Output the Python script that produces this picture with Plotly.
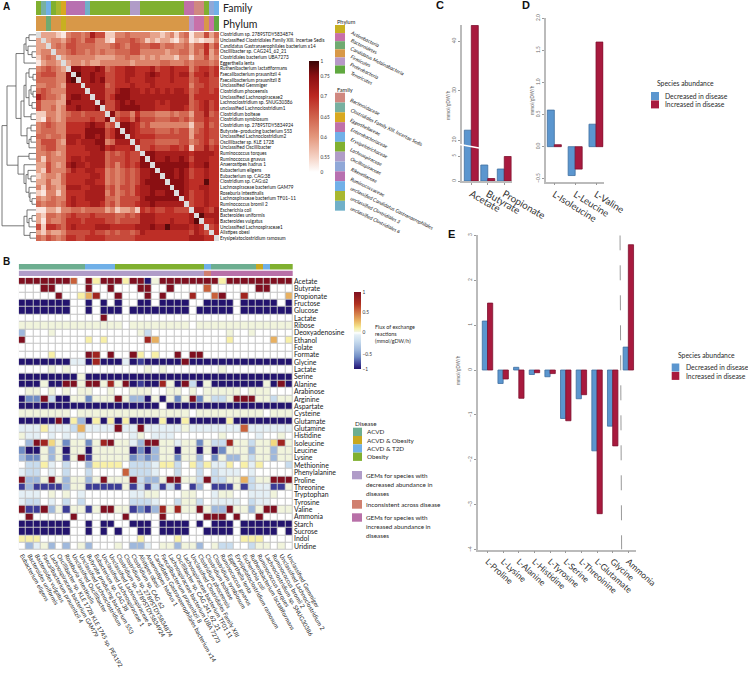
import numpy as np
import plotly.graph_objects as go

W, H = 748, 678
FONT = "Lato"
BLUE, RED = "#5b96cf", "#a81a3e"
BLUE_EDGE, RED_EDGE = "#3f6f9f", "#7d1230"

# ---------- Panel A ----------
SPECIES_A = ["Clostridium sp. 2789STDY5834874", "Unclassified Clostridiales Family XIII. Incertae Sedis",
    "Candidatus Gastranaerophilales bacterium x14", "Oscillibacter sp. CAG241_62_21", "Clostridiales bacterium UBA7273",
    "Eggerthella lenta", "Ruthenibacterium lactatiformans", "Faecalibacterium prausnitzii 4", "Faecalibacterium prausnitzii 8",
    "Unclassified Gemmiger", "Clostridium phoceensis", "Unclassified Lachnospiraceae2", "Lachnoclostridium sp. SNUG30386",
    "unclassified Lachnoclostridium1", "Clostridium bolteae", "Clostridium symbiosum", "Clostridium sp. 2789STDY5834924",
    "Butyrate−producing bacterium S53", "Unclassified Lachnoclostridium2", "Oscillibacter sp. KLE 1728", "Unclassified Oscillibacter",
    "Ruminococcus torques", "Ruminococcus gnavus", "Anaerostipes hadrus 1", "Eubacterium eligens", "Eubacterium sp. CAG:38",
    "Clostridium sp. CAG:62", "Lachnospiraceae bacterium GAM79", "Roseburia intestinalis", "Lachnospiraceae bacterium TF01−11",
    "Ruminococcus bromii 2", "Escherichia coli", "Bacteroides uniformis", "Bacteroides vulgatus", "Unclassified Lachnospiraceae1",
    "Alistipes obesi", "Erysipelatoclostridium ramosum"]
# upper triangle of the correlation heatmap, one darkness class per cell, read by eye
CORR_UPPER = [
    "2 2 2 1 0 3 4 4 3 4 7 5 5 1 1 3 3 4 3 3 3 3 2 2 1 2 3 1 3 4 0 2 2 5 2 4",
    "2 3 3 2 4 5 4 3 5 5 3 3 1 0 4 4 4 5 4 3 1 2 1 2 2 1 0 2 3 0 1 0 1 1 3",
    "3 4 3 5 5 4 4 4 4 3 3 3 4 5 4 3 5 5 4 4 5 5 3 4 4 3 3 4 2 4 4 6 3 5",
    "3 3 4 5 4 4 3 4 3 4 3 3 4 4 4 5 5 3 3 3 3 3 2 3 3 4 4 2 4 3 6 2 4",
    "2 3 3 3 3 3 3 2 2 2 2 3 3 4 3 3 2 3 2 3 2 2 2 1 3 3 1 3 3 5 2 3",
    "2 3 3 2 3 2 2 3 3 3 3 3 3 2 3 3 3 3 3 4 4 3 3 3 4 3 4 4 4 3 4",
    "8 8 7 7 7 8 7 4 5 6 6 7 7 6 6 6 7 5 6 6 7 6 6 6 3 5 6 6 5 6",
    "9 7 7 8 7 7 5 5 6 6 7 7 6 6 7 8 7 6 6 7 6 7 7 4 6 6 7 5 6",
    "7 7 8 7 8 5 5 6 6 7 6 6 6 7 7 6 6 6 7 6 6 6 4 5 6 6 5 5",
    "7 7 7 7 4 5 6 6 6 7 6 6 6 7 6 6 6 6 6 6 6 3 5 5 6 5 5",
    "7 7 7 5 5 7 8 8 7 7 6 7 6 7 6 7 6 7 7 6 4 5 6 6 5 6",
    "7 7 5 6 8 8 8 7 7 7 7 7 7 7 7 7 7 7 7 4 6 6 6 6 6",
    "8 5 5 7 8 7 8 7 7 7 7 6 7 6 7 7 7 7 4 5 6 7 5 6",
    "5 5 7 8 8 8 8 7 7 7 6 6 6 7 7 7 6 4 5 6 7 5 6",
    "8 4 5 5 3 6 4 4 4 3 3 3 4 3 4 4 2 5 5 7 4 5",
    "5 6 6 4 7 5 5 5 4 4 4 5 5 4 5 3 5 5 6 5 5",
    "8 8 7 6 4 5 3 3 3 3 3 3 3 3 1 4 4 6 4 5",
    "8 7 6 5 5 5 4 4 4 5 4 5 5 2 4 5 6 5 5",
    "7 6 6 6 6 5 5 5 5 5 5 5 2 5 5 6 5 5",
    "7 5 5 5 4 4 4 4 4 5 5 3 4 5 6 4 5",
    "5 5 6 5 5 5 6 6 5 6 1 5 5 7 5 6",
    "8 8 7 7 7 7 7 7 7 6 7 7 7 7 6",
    "8 7 7 8 7 7 8 7 5 7 7 7 6 6",
    "8 8 8 8 8 8 8 6 7 7 8 6 6",
    "8 8 8 7 8 7 5 6 6 7 6 6",
    "8 8 7 8 7 5 6 6 7 6 6",
    "8 8 8 7 6 6 6 9 6 6",
    "8 8 7 6 6 7 7 6 6",
    "8 7 5 6 6 7 6 6",
    "7 5 6 6 7 6 6",
    "5 6 6 7 6 6",
    "7 7 6 5 7",
    "9 7 7 7",
    "6 6 7",
    "5 6",
    "6",
]
CORR_LEVELS = [0.3, 0.555, 0.59, 0.62, 0.645, 0.67, 0.695, 0.72, 0.75, 0.9]
CBAR_A_TICKS = [0, 0.55, 0.6, 0.65, 0.7, 0.75, 1]
CBAR_A_LABELS = ["0", "0.55", "0.6", "0.65", "0.7", "0.75", "1"]
CBAR_A_POS = [0, 0.135, 0.315, 0.495, 0.685, 0.865, 1]
CSCALE_A = [[0, "#ffffff"], [0.135, "#f5d2c4"], [0.315, "#e4987e"], [0.495, "#d0634d"],
            [0.685, "#bb2822"], [0.865, "#8a0f12"], [1, "#3a0606"]]

FAMILY_NAMES = ["Bacteroidaceae", "Clostridiales Family XIII. Incertae Sedis", "Eggerthellaceae", "Enterobacteriaceae",
    "Erysipelotrichaceae", "Lachnospiraceae", "Oscillospiraceae", "Rikenellaceae", "Ruminococcaceae",
    "unclassified Candidatus Gastranaerophilales", "unclassified Clostridiales 3", "unclassified Clostridiales 6"]
FAMILY_COLORS = ["#d08880", "#78b0a0", "#d8a820", "#c070a8", "#70b0e8", "#80b030", "#b09cc8", "#90a8d8", "#b870b0",
    "#70b0e8", "#a8b830", "#70b0c8"]
FAMILY_COLS = [5, 1, 9, 5, 10, 2, 8, 8, 8, 8, 11, 5, 5, 5, 5, 5, 5, 5, 5, 6, 6, 5, 5, 5, 5, 5, 5, 5, 5, 5, 3, 3, 0, 0, 5, 7, 4]
PHYLUM_NAMES = ["Actinobacteria", "Bacteroidetes", "Candidatus Melainabacteria", "Firmicutes", "Proteobacteria", "Tenericutes"]
PHYLUM_COLORS = ["#c8b020", "#c870a8", "#70aa70", "#d89848", "#b898c8", "#60a840"]
PHYLUM_COLS = [3, 3, 2, 3, 3, 0] + [3] * 25 + [4, 1, 1, 3, 1, 5]

# dendrogram: (distance, child, child), leaves are row numbers
DENDRO = (34,
    (29,
        (20,
            (12, (10, (7, 0, 1), (8, 2, (4, 3, 4))), 5),
            (15,
                (12,
                    (10, (7, 6, (3, 7, 8)), (7, (5, 9, (3, 10, 11)), (4, 12, 13))),
                    (5, 14, 15)),
                (9, (5, 16, 17), (7, (5, 18, 19), 20)))),
        (18,
            (7, 21, 22),
            (12, 23, (10, (8, 24, (5, 25, 26)), (7, 27, (6, 28, (4, 29, 30))))))),
    (12,
        (9, 31, (7, (4, 32, 33), 34)),
        (6, 35, 36)))

# ---------- Panel B ----------
METABOLITES = ["Acetate", "Butyrate", "Propionate", "Fructose", "Glucose", "Lactate", "Ribose", "Deoxyadenosine", "Ethanol",
    "Folate", "Formate", "Glycine", "Lactate", "Serine", "Alanine", "Arabinose", "Arginine", "Aspartate", "Cysteine", "Glutamate",
    "Glutamine", "Histidine", "Isoleucine", "Leucine", "Lysine", "Methionine", "Phenylalanine", "Proline", "Threonine",
    "Tryptophan", "Tyrosine", "Valine", "Ammonia", "Starch", "Sucrose", "Indol", "Uridine"]
SPECIES_B = ["Eubacterium eligens", "Bacteroides uniformis", "Bacteroides vulgatus", "Faecalibacterium prausnitzii 4",
    "Lachnospiraceae bacterium GAM79", "Oscillibacter sp. KLE 1728 KLE 1745 sp. PEA192", "Roseburia intestinalis",
    "Unclassified Oscillibacter", "Unclassified Lachnoclostridium", "Butyrate producing bacterium S53", "Eubacterium sp. CAG 38",
    "Unclassified Lachnospiraceae 1", "Unclassified Lachnospiraceae 4", "Clostridium sp. 2789STDY5834924",
    "Clostridium sp. 2789STDY5834874", "Clostridium sp. CAG 62", "Alistipes obesi", "Anaerostipes hadrus 1",
    "Candidatus Gastranaerophilales bacterium x14", "Faecalibacterium prausnitzii 8", "Lachnospiraceae bacterium UBA 7273",
    "Oscillibacter sp. CAG 241_62_21", "Lachnospiraceae bacterium TF01 11", "Unclassified Clostridiales Family XIII",
    "Clostridium phoceensis", "Clostridium bolteae", "Clostridium symbiosum", "Ruminococcus gnavus", "Eggerthella lenta",
    "Erysipelatoclostridium ramosum", "Escherichia coli", "Ruthenibacterium lactatiformans", "Ruminococcus torques",
    "Lachnoclostridium sp. SNUG30386", "Ruminococcus bromii 2", "Unclassified Lachnoclostridium 2", "Unclassified Gemmiger"]
FLUX_CODES = {"w": 0, "g": 0.03, "y": 0.1, "q": 0.18, "o": 0.3, "r": 0.55, "R": 0.8, "K": 1,
              "p": -0.05, "l": -0.2, "c": -0.4, "b": -0.6, "m": -0.85, "D": -1}
FLUX_ROWS = [
    "KKKKK KKrwK yKKKy KKDgK KKKKK KKyKK KKKKK KK",
    "wwwKK wwwwK wwKww wKKww Kwwww rwwww wwKKw ww",
    "wwwww Kwwyo RwwKw wwKwK wwwRw wrKww Rwwww wo",
    "DDDDD DDwwD wDwDw wDDwD DDDww DDDDw DDDDD wD",
    "DDDDD DDwwD wDDDw DDDDD DDDwD DDDDw DDDDD DD",
    "wwwww wwwww wKwww wwwww wwwww wwwww wwwww ww",
    "ggggg ggggg ggggw ggggg gggwg ggggg ggggg gg",
    "cwwwg wwwww wwwww wglww wwwww wwwgw wgwww ww",
    "Kwwww wwwwy wywww wwRow wwwww wwwyw wwwwo wy",
    "wwwww wwwww wwwww wwwww wwwww wwwww wwwww ww",
    "wwwwy wwwwK RwKww Kywyw wKwKK wwwww wwwww ww",
    "DDDDD DDppD RDDDp DmDDD DDKDD DDDDD DDDDD DD",
    "wwwwg wgwww wwwww wwgwg wwwww wwgww wwwww ww",
    "DDDDD DDDgD DDDDD DDDDD DDDDD DDDDD DDDDD DD",
    "DDDgD DKKgK KgRgK DmDDR gDKlD gDDDD DDDgD KD",
    "wggwg wgwgg wwgww gggww ggwgw ggggg wgggw ww",
    "DbbKl DDggb gggKg ccDgD gbgKb gllgK KKggl gg",
    "DDDDD DDDDD DDDDD DDDDw DDDDD DDDDD DDDDD DD",
    "ggggg ggwgg ggggg ggggg gggwg ggggg gggwg gg",
    "DDDDD KDycD yDyDy DDDDy DDyDD DDDyD DDDDD DD",
    "pppyp pplop pppKp pKppp ppgpp ppppp rpppp pp",
    "gppwp wpwpw wwwww pgwpp pwwww wwgww wwpww gw",
    "wcKRq gbggb gRKgg pcKKg gpggb gllRg glggq Rg",
    "bDDgc gDggD ggggg DbDcg gDggD gDbgg gcggc gg",
    "cbbgc gmgKm ggggg bcbcg gbggc wbgcc glggc gg",
    "wllyp wlwwc yyyyw lllpy ylwyl yppyw ypyww wl",
    "pllwp wlwwl wwwwr lllpw wlwwl wlppp wpwww ww",
    "KccgK gcggc gKggg Klccg KKggl Kllgg olggK KK",
    "mcmmm mcggm mmmmg mlmlm lmwmc wmmmg mlppm mg",
    "pppwg wgwpw wwwww ppggw wwggw wpggw wpppg ww",
    "pllwp wlwlw wwwww lllpw wlggl wpppp wlppw ww",
    "KmmKc gmggm gKKgg mbmcR gRggK gccKg gcgKK gg",
    "wKwww wwKww wwwwK wwwwK wwwww KKKwK wwKww ww",
    "DDDDD DDwwD wDDww DDDwD DDDwD wDDDw DDDDD DD",
    "DDDDD DDwwD wDwDw wDDwD DDDww DDDDw DDDDD wD",
    "yyyww wwwww wwwww wywww wywww wwwww yyyww ww",
    "wcpgc wcwgc wwwgw ccpwg gcggc wgllw wlggw gw",
]
CBAR_B_TICKS = [-1, -0.5, 0, 0.5, 1]
CBAR_B_LABELS = ["−1", "−0.5", "0", "0.5", "1"]
CBAR_B_POS = [0, 0.195, 0.47, 0.74, 1]
CSCALE_B = [[0, "#23146e"], [0.058, "#3c3c96"], [0.156, "#6f8cc4"], [0.25, "#9fb8dc"], [0.36, "#c8dcee"],
            [0.4425, "#e4eff5"], [0.47, "#ffffff"], [0.486, "#f1f4dc"], [0.524, "#f8f0a8"], [0.567, "#f2d880"],
            [0.632, "#e8b060"], [0.766, "#c8603a"], [0.844, "#b03020"], [1, "#7f1020"]]
DISEASE_NAMES = ["ACVD", "ACVD & Obesity", "ACVD & T2D", "Obesity"]
DISEASE_COLORS = ["#6dae90", "#c8a820", "#70b0e8", "#80b030"]
DISEASE_COLS = [0] * 9 + [2] * 4 + [3] * 12 + [2] + [0] * 6 + [1, 2] + [3] * 3
ENRICH_NAMES = [["GEMs for species with", "decreased abundance in", "diseases"], ["Inconsistent across disease"],
                ["GEMs for species with", "increased abundance in", "diseases"]]
ENRICH_COLORS = ["#b09cc8", "#d08070", "#b870a8"]
ENRICH_COLS = [0] * 25 + [1] + [2] * 11

# ---------- Panels C, D, E ----------
SERIES_NAMES = ["Decreased in disease", "Increased in disease"]
C_CATS = ["Acetate", "Butyrate", "Propionate"]
C_DEC = [22.0, 3.2, 2.4]
C_INC = [43.2, 0.5, 4.9]
D_CATS = ["L-Isoleucine", "L-Leucine", "L-Valine"]
D_DEC = [0.57, -0.45, 0.35]
D_INC = [0.03, -0.35, 1.63]
E_CATS = ["L-Proline", "L-Lysine", "L-Alanine", "L-Histidine", "L-Tyrosine", "L-Serine", "L-Threoinine", "L-Glutamate", "Glycine", "Ammonia"]
E_DEC = [1.09, -0.30, 0.06, -0.10, -0.15, -1.08, -0.64, -1.80, -1.25, 0.51]
E_INC = [1.49, -0.20, -0.63, -0.06, -0.08, -1.13, -0.55, -3.20, -1.69, 2.79]


def fx(x): return x / W
def fy(y): return 1 - y / H


fig = go.Figure()
layout = dict(width=W, height=H, margin=dict(l=0, r=0, t=0, b=0, autoexpand=False), paper_bgcolor="white", plot_bgcolor="rgba(0,0,0,0)",
              font=dict(family=FONT, color="#333"), barmode="overlay", showlegend=False)
annots, shapes = [], []
n_ax = [0]


def new_axes(x0, x1, y0, y1, xkw=None, ykw=None):
    n_ax[0] += 1
    n = n_ax[0]
    suf = "" if n == 1 else str(n)
    base = dict(showgrid=False, zeroline=False, showticklabels=False, ticks="", showline=False, fixedrange=True)
    layout["xaxis" + suf] = {**base, "domain": [fx(x0), fx(x1)], "anchor": "y" + suf, **(xkw or {})}
    layout["yaxis" + suf] = {**base, "domain": [fy(y1), fy(y0)], "anchor": "x" + suf, **(ykw or {})}
    return "x" + suf, "y" + suf


def note(x, y, text, size, **kw):
    d = dict(x=fx(x), y=fy(y), xref="paper", yref="paper", text=text, showarrow=False, font=dict(size=size, family=FONT, color=kw.pop("color", "#2a2a2a")),
             xanchor="left", yanchor="middle", align="left")
    d.update(kw)
    annots.append(d)


def box(x0, y0, x1, y1, color):
    shapes.append(dict(type="rect", xref="paper", yref="paper", x0=fx(x0), x1=fx(x1), y0=fy(y0), y1=fy(y1),
                       fillcolor=color, line=dict(width=0)))


def stepped(colors):
    n = len(colors)
    out = []
    for i, c in enumerate(colors):
        out += [[i / n, c], [(i + 1) / n, c]]
    return out


def annot_bar(values, colors, x0, x1, y0, y1):
    xa, ya = new_axes(x0, x1, y0, y1, dict(range=[-0.5, len(values) - 0.5]), dict(range=[-0.5, 0.5]))
    fig.add_trace(go.Heatmap(z=[values], colorscale=stepped(colors), zmin=-0.5, zmax=len(colors) - 0.5, showscale=False,
                             xaxis=xa, yaxis=ya, hoverinfo="skip"))


# ---- A ----
N = 37
corr = np.full((N, N), np.nan)
for r, s in enumerate(CORR_UPPER):
    for k, ch in enumerate(s.split()):
        v = CORR_LEVELS[int(ch)]
        corr[r, r + 1 + k] = v
        corr[r + 1 + k, r] = v
pos_a = np.interp(corr, CBAR_A_TICKS, CBAR_A_POS)
pos_a[np.isnan(corr)] = np.nan
AX0, AX1, AY0, AY1 = 36, 219, 32, 241
annot_bar(FAMILY_COLS, FAMILY_COLORS, AX0, AX1, 1, 15)
annot_bar(PHYLUM_COLS, PHYLUM_COLORS, AX0, AX1, 16, 31)
xa, ya = new_axes(AX0, AX1, AY0, AY1, dict(range=[-0.5, 36.5]),
                  dict(range=[36.5, -0.5], side="right", showticklabels=True, tickmode="array", tickvals=list(range(N)),
                       ticktext=SPECIES_A, tickfont=dict(size=4.7, family=FONT, color="#111")))
fig.add_trace(go.Heatmap(z=np.eye(N).tolist(), colorscale=[[0, "#dddddd"], [1, "#dddddd"]], showscale=False, xaxis=xa, yaxis=ya, hoverinfo="skip"))
fig.add_trace(go.Heatmap(z=pos_a.tolist(), colorscale=CSCALE_A, zmin=0, zmax=1, xaxis=xa, yaxis=ya, hoverinfo="skip",
    colorbar=dict(x=fx(309), xanchor="left", xpad=0, ypad=0, y=fy(172), yanchor="bottom", len=111 / H, lenmode="fraction",
                  thickness=10, thicknessmode="pixels", outlinewidth=0, tickmode="array", tickvals=CBAR_A_POS, ticktext=CBAR_A_LABELS,
                  ticks="", tickfont=dict(size=4.7, family=FONT, color="#333"))))
note(221, 8, "Family", 10.5, color="#222")
note(221, 24, "Phylum", 10.5, color="#222")


def walk(node, xs, ys):
    if isinstance(node, int):
        return 0, node
    dist, a, b = node
    da, ya_ = walk(a, xs, ys)
    db, yb_ = walk(b, xs, ys)
    xs += [da, dist, dist, db, None]
    ys += [ya_, ya_, yb_, yb_, None]
    return dist, (ya_ + yb_) / 2


dx, dy = [], []
walk(DENDRO, dx, dy)
xa, ya = new_axes(0, AX0, AY0, AY1, dict(range=[36, 0]), dict(range=[36.5, -0.5]))
fig.add_trace(go.Scatter(x=dx, y=dy, mode="lines", line=dict(color="#555", width=0.8), xaxis=xa, yaxis=ya, hoverinfo="skip"))

# A legends
note(335, 21.5, "Phylum", 5.6, color="#222")
for i, (name, c) in enumerate(zip(PHYLUM_NAMES, PHYLUM_COLORS)):
    box(335, 25 + i * 8.1, 345, 25 + (i + 1) * 8.1, c)
    note(347, 26.5 + i * 8.1, "<i>%s</i>" % name, 5, textangle=26, yanchor="top", color="#111")
note(335, 89, "Family", 5.6, color="#222")
for i, (name, c) in enumerate(zip(FAMILY_NAMES, FAMILY_COLORS)):
    box(335, 92.7 + i * 9.83, 345, 92.7 + (i + 1) * 9.83, c)
    note(347, 94.5 + i * 9.83, "<i>%s</i>" % name, 5, textangle=26, yanchor="top", color="#111")

# ---- B ----
BX0, BX1, BY0, BY1 = 18.7, 293, 277.7, 550
annot_bar(DISEASE_COLS, DISEASE_COLORS, BX0, BX1, 264, 269.5)
annot_bar(ENRICH_COLS, ENRICH_COLORS, BX0, BX1, 270.5, 276)
flux = np.array([[FLUX_CODES[c] for c in row.replace(" ", "")] for row in FLUX_ROWS], dtype=float)
pos_b = np.interp(flux, CBAR_B_TICKS, CBAR_B_POS)
xa, ya = new_axes(BX0, BX1, BY0, BY1,
                  dict(range=[-0.5, 36.5], showticklabels=True, tickmode="array", tickvals=list(range(N)), ticktext=SPECIES_B,
                       tickangle=61, tickfont=dict(size=6, family=FONT, color="#222")),
                  dict(range=[36.5, -0.5], side="right", showticklabels=True, tickmode="array", tickvals=list(range(N)),
                       ticktext=METABOLITES, tickfont=dict(size=6.9, family=FONT, color="#222")))
fig.add_trace(go.Heatmap(z=np.zeros((N, N)).tolist(), colorscale=[[0, "#c4c4c4"], [1, "#c4c4c4"]], showscale=False, xaxis=xa, yaxis=ya, hoverinfo="skip"))
fig.add_trace(go.Heatmap(z=pos_b.tolist(), colorscale=CSCALE_B, zmin=0, zmax=1, xgap=1, ygap=1, xaxis=xa, yaxis=ya, hoverinfo="skip",
    colorbar=dict(x=fx(353.5), xanchor="left", xpad=0, ypad=0, y=fy(369), yanchor="bottom", len=77 / H, lenmode="fraction",
                  thickness=7, thicknessmode="pixels", outlinewidth=0, tickmode="array", tickvals=CBAR_B_POS, ticktext=CBAR_B_LABELS,
                  ticks="", tickfont=dict(size=4.8, family=FONT, color="#333"))))
note(372.7, 333.5, "Flux of exchange<br>reactions<br>(mmol/gDW/h)", 5.4)
note(353, 423, "Disease", 6.3)
for i, (name, c) in enumerate(zip(DISEASE_NAMES, DISEASE_COLORS)):
    box(353, 427.7 + i * 8.3, 362, 427.7 + (i + 1) * 8.3, c)
    note(364.5, 431.8 + i * 8.3, name, 6.3)
ENRICH_Y = [(471, 479.3), (500, 508.7), (513.3, 521.7)]
ENRICH_TXT_Y = [[475.3, 484, 493], [504.3], [517.7, 526.7, 535.7]]
for lines, c, (y0, y1), ty in zip(ENRICH_NAMES, ENRICH_COLORS, ENRICH_Y, ENRICH_TXT_Y):
    box(352, y0, 362, y1, c)
    for t, yy in zip(lines, ty):
        note(364, yy, t, 6.3)


# ---- bars ----
def bar_pair(cats, dec, inc, xa, ya, width):
    for name, vals, col, edge, off in ((SERIES_NAMES[0], dec, BLUE, BLUE_EDGE, -width), (SERIES_NAMES[1], inc, RED, RED_EDGE, 0)):
        fig.add_trace(go.Bar(x=cats, y=vals, name=name, width=width, offset=off, xaxis=xa, yaxis=ya,
                             marker=dict(color=col, line=dict(color=edge, width=0.8)), hoverinfo="skip"))


AXLINE = dict(showline=True, linecolor="#bbbbbb", linewidth=1.5)
def y_kw(rng, vals, labels):
    return dict(AXLINE, range=rng, tickmode="array", tickvals=vals, ticktext=labels, showticklabels=True, ticks="outside", ticklen=2,
                tickcolor="#999", tickwidth=0.7, tickangle=-90, tickfont=dict(size=4.8, family=FONT, color="#666"))
def x_kw(rng, angle, size, cats):
    return dict(AXLINE, type="category", categoryorder="array", categoryarray=cats, range=rng, showticklabels=True, ticks="outside", ticklen=2,
                tickcolor="#999", tickwidth=0.7, tickangle=angle, tickfont=dict(size=size, family=FONT, color="#333"))


# C: broken value axis drawn as two stacked axes
C_RANGE_X = [-0.564, 2.45]
xa, ya = new_axes(462, 511.7, 145, 181, x_kw(C_RANGE_X, 30, 9.8, C_CATS), y_kw([0, 7.2], [0, 5], ["0", "5"]))
bar_pair(C_CATS, C_DEC, C_INC, xa, ya, 0.424)
xa, ya = new_axes(462, 511.7, 25, 145, dict(type="category", categoryorder="array", categoryarray=C_CATS, range=C_RANGE_X),
                  y_kw([19, 43.3], [20, 30, 40], ["20", "30", "40"]))
bar_pair(C_CATS, C_DEC, C_INC, xa, ya, 0.424)
shapes.append(dict(type="line", xref="paper", yref="paper", x0=fx(460), y0=fy(144.5), x1=fx(479), y1=fy(148), line=dict(color="white", width=1.4), layer="above"))
note(448, 105, "mmol/gDW/h", 4.8, textangle=-90, xanchor="center", color="#666")

# D
xa, ya = new_axes(546, 603.5, 18.3, 181.7, x_kw([-0.4, 2.36], 32, 9.5, D_CATS),
                  y_kw([-0.546, 2.0], [-0.5, 0, 0.5, 1, 1.5, 2], ["−0.5", "0.0", "0.5", "1.0", "1.5", "2.0"]))
bar_pair(D_CATS, D_DEC, D_INC, xa, ya, 0.337)
note(532, 100, "mmol/gDW/h", 4.8, textangle=-90, xanchor="center", color="#666")

# E
xa, ya = new_axes(477.7, 635.7, 235.3, 549.6, x_kw([-0.626, 9.47], 42, 8.6, E_CATS),
                  y_kw([-4, 3], [-4, -3, -2, -1, 0, 1, 2, 3], ["−4", "−3", "−2", "−1", "0", "1", "2", "3"]))
bar_pair(E_CATS, E_DEC, E_INC, xa, ya, 0.333)
shapes.append(dict(type="line", xref=xa, yref=ya, x0=8.47, x1=8.57, y0=3, y1=-4, line=dict(color="#999999", width=1, dash="longdash")))
note(458, 370, "mmol/gDW/h", 4.8, textangle=-90, xanchor="center", color="#666")

# species abundance legends
for (tx, ty, sx0, sx1, sy, lx) in ((655, 83, 651, 659, 92, 663), (675.7, 355, 671.7, 679.3, 363.5, 684)):
    note(tx, ty, "Species abundance", 6.8)
    for i, (nm, c) in enumerate(zip(SERIES_NAMES, (BLUE, RED))):
        box(sx0, sy + i * 8.4, sx1, sy + (i + 1) * 8.4 - 0.4, c)
        note(lx, sy + 3.8 + i * 8.4, nm, 6.8)

# panel letters
for t, x, y, s in (("A", 1, 7, 10), ("B", 1, 261, 10), ("C", 434, 5, 11), ("D", 519.5, 5, 11), ("E", 445.5, 233.5, 11)):
    note(x, y, "<b>%s</b>" % t, s, color="#111")
    annots[-1]["font"]["family"] = "Liberation Sans"

layout["annotations"] = annots
layout["shapes"] = shapes
fig.update_layout(**layout)
fig.write_html("out.html", config={"displayModeBar": False},
               post_script="document.body.style.margin='0';document.body.style.overflow='hidden';")
